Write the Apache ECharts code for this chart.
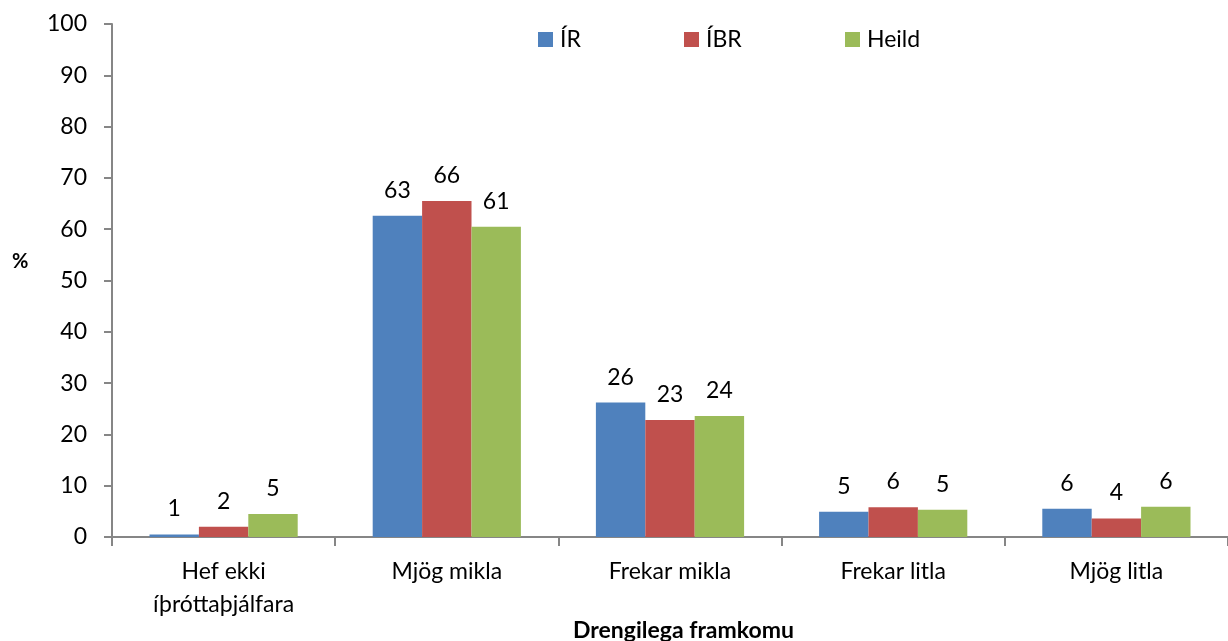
<!DOCTYPE html>
<html><head><meta charset="utf-8">
<script src="https://cdn.jsdelivr.net/npm/echarts@6/dist/echarts.min.js"></script>
<style>html,body{margin:0;padding:0;background:#fff}#c{width:1228px;height:641px}</style>
</head><body><div id="c"></div>
<script>
const categories = ['Hef ekki\níþróttaþjálfara', 'Mjög mikla', 'Frekar mikla', 'Frekar litla', 'Mjög litla'];
const seriesNames = ['ÍR', 'ÍBR', 'Heild'];
const valuesIR = [0.5, 62.6, 26.2, 4.9, 5.5];
const valuesIBR = [2.0, 65.5, 22.8, 5.8, 3.6];
const valuesHeild = [4.5, 60.5, 23.6, 5.3, 5.9];
const colors = ['#4F81BD', '#C0504D', '#9BBB59'];
const font = 'Lato, "Open Sans", sans-serif';

const chart = echarts.init(document.getElementById('c'));
const allValues = [valuesIR, valuesIBR, valuesHeild];
const legendLefts = [538, 684, 845];
chart.setOption({
  animation: false,
  textStyle: { fontFamily: font },
  legend: seriesNames.map((n, i) => ({
    data: [n], left: legendLefts[i], top: 28, itemWidth: 15, itemHeight: 15,
    icon: 'rect', itemGap: 6, padding: 0,
    textStyle: { fontSize: 23, color: '#000', fontFamily: font, padding: [0, 0, 0, 2] }
  })),
  grid: { left: 112, top: 24, width: 1122, bottom: 104 },
  xAxis: {
    type: 'category', data: categories,
    axisLine: { lineStyle: { color: '#868686', width: 2 } },
    axisTick: { show: true, length: 9, lineStyle: { color: '#868686', width: 2 } },
    axisLabel: { color: '#000', fontSize: 23, margin: 18, lineHeight: 33, fontFamily: font, interval: 0 }
  },
  yAxis: {
    type: 'value', min: 0, max: 100, interval: 10,
    axisLine: { show: true, lineStyle: { color: '#868686', width: 2 } },
    axisTick: { show: true, length: 8, lineStyle: { color: '#868686', width: 2 } },
    splitLine: { show: false },
    axisLabel: { color: '#000', fontSize: 23, margin: 25, fontFamily: font }
  },
  series: seriesNames.map((n, i) => ({
    name: n, type: 'bar', data: allValues[i],
    barGap: '0%', barCategoryGap: '33.6%',
    itemStyle: { color: colors[i] },
    label: { show: true, position: 'top', distance: 14, fontSize: 23, color: '#000', fontFamily: font,
      formatter: p => Math.round(p.value) }
  })),
  graphic: [
    { type: 'text', left: 12, top: 252, style: { text: '%', font: 'bold 20px ' + font, fill: '#000' } },
    { type: 'text', left: 573, top: 619, style: { text: 'Drengilega framkomu', font: 'bold 23px ' + font, fill: '#000' } }
  ]
});
</script></body></html>
